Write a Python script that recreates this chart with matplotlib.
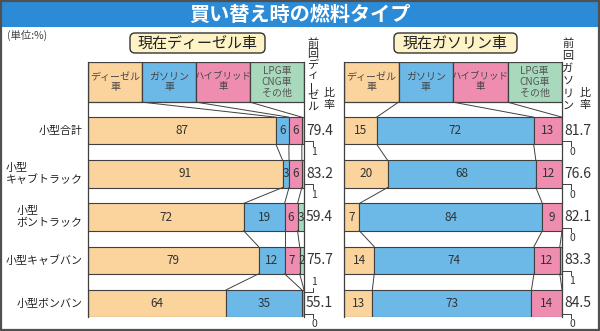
import matplotlib
matplotlib.use("Agg")
import matplotlib.pyplot as plt
from matplotlib.patches import Rectangle, FancyBboxPatch

plt.rcParams['font.family'] = ['Noto Sans CJK JP', 'DejaVu Sans']

# ---------------- data ----------------
title = "買い替え時の燃料タイプ"
unit_label = "(単位:%)"
categories = ["小型合計", "小型\nキャブトラック", "小型\nボントラック", "小型キャブバン", "小型ボンバン"]
fuel_labels = ["ディーゼル\n車", "ガソリン\n車", "ハイブリッド\n車", "LPG車\nCNG車\nその他"]

diesel_title = "現在ディーゼル車"
diesel_diesel = [87, 91, 72, 79, 64]
diesel_gasoline = [6, 3, 19, 12, 35]
diesel_hybrid = [6, 6, 6, 7, 1]
diesel_other = [1, 1, 3, 2, 0]
diesel_prev_ratio = [79.4, 83.2, 59.4, 75.7, 55.1]
diesel_prev_head = "前回ディーゼル"

gas_title = "現在ガソリン車"
gas_diesel = [15, 20, 7, 14, 13]
gas_gasoline = [72, 68, 84, 74, 73]
gas_hybrid = [13, 12, 9, 12, 14]
gas_other = [0, 0, 0, 1, 0]
gas_prev_ratio = [81.7, 76.6, 82.1, 83.3, 84.5]
gas_prev_head = "前回ガソリン"

colors = ["#fbd39c", "#6cb9e7", "#ef8db0", "#a9d9bd"]
edge = "#404040"
txt = "#333333"

W, H = 600, 331
fig = plt.figure(figsize=(W / 100, H / 100), dpi=100)
fig.patch.set_facecolor("white")

# overlay axes in pixel coordinates for decoration
ov = fig.add_axes([0, 0, 1, 1])
ov.set_xlim(0, W)
ov.set_ylim(H, 0)
ov.axis("off")
ov.add_patch(Rectangle((0, 0), W, 27, facecolor="#2b8bd6", edgecolor="none"))
ov.add_patch(Rectangle((1, 0.5), W - 2.5, H - 2, facecolor="none", edgecolor="#505050", lw=1.6))
ov.text(300, 14, title, color="white", fontsize=14.5, fontweight="bold", ha="center", va="center")
ov.text(7, 35, unit_label, color="#444444", fontsize=7.5, ha="left", va="center")

for (x0, x1, t) in [(130, 265, diesel_title), (394, 517, gas_title)]:
    ov.add_patch(FancyBboxPatch((x0, 33), x1 - x0, 20, boxstyle="round,pad=0,rounding_size=5",
                                facecolor="#fdf3c6", edgecolor="#333333", lw=1.0))
    ov.text((x0 + x1) / 2, 43.5, t, fontsize=10.8, ha="center", va="center", color="#222222")


def vertical_text(x, head, x2):
    n = len(head)
    step = (112 - 38) / n
    for i, c in enumerate(head):
        rot = 90 if c == "ー" else 0
        ov.text(x, 38 + step * (i + 0.5), c, fontsize=8, ha="center", va="center",
                rotation=rot, color="#222222")
    for i, c in enumerate("比率"):
        ov.text(x2, 93 + 12 * i, c, fontsize=8, ha="center", va="center", color="#222222")


vertical_text(313, diesel_prev_head, 329)
vertical_text(568, gas_prev_head, 585)

BAR_H = 0.63
Y_TOP = -1.593
Y_BOT = 4.315
LEG_H = 0.93


def panel(x_left, x_right, series, prev_ratio):
    ax = fig.add_axes([x_left / W, (H - 317) / H, (x_right - x_left) / W, 255 / H])
    ax.set_xlim(0, 100)
    ax.set_ylim(Y_BOT, Y_TOP)
    ax.axis("off")
    n = len(prev_ratio)
    # legend boxes
    for k, lab in enumerate(fuel_labels):
        ax.add_patch(Rectangle((25 * k, Y_TOP), 25, LEG_H, facecolor=colors[k], edgecolor=edge, lw=0.9))
        ax.text(25 * k + 12.5, Y_TOP + LEG_H / 2, lab, fontsize=6.8 if k == 2 else 7.2,
                ha="center", va="center",
                color="#444444" if k < 3 else "#555555", linespacing=1.1)
    # frame lines
    ax.plot([0, 0], [Y_TOP, Y_BOT], color=edge, lw=0.9, clip_on=False)
    ax.plot([100, 100], [Y_TOP, Y_BOT], color=edge, lw=0.9, clip_on=False)
    prev_bounds = [25, 50, 75]
    prev_y = Y_TOP + LEG_H
    for i in range(n):
        vals = [s[i] for s in series]
        tot = sum(vals)
        left = 0
        bounds = []
        for k, v in enumerate(vals):
            w = v / tot * 100
            if w > 0:
                ax.barh(i, w, left=left, height=BAR_H, color=colors[k], edgecolor=edge, lw=0.8)
            if v >= 2:
                ax.text(left + w / 2, i, str(v), fontsize=8.5, ha="center", va="center", color=txt)
            left += w
            bounds.append(left)
        bounds = bounds[:3]
        top = i - BAR_H / 2
        bot = i + BAR_H / 2
        for b0, b1 in zip(prev_bounds, bounds):
            ax.plot([b0, b1], [prev_y, top], color=edge, lw=0.7)
        prev_bounds = bounds
        prev_y = bot
        ax.text(100.9, i, f"{prev_ratio[i]:.1f}", fontsize=10, ha="left", va="center", color=txt,
                clip_on=False)
        # small values shown outside
        xl = 104.0
        if vals[3] < 2:
            ax.plot([100, xl, xl], [bot - 0.07, bot - 0.07, bot + 0.03], color=edge, lw=0.7, clip_on=False)
            ax.text(xl + 0.6, bot + 0.17, str(vals[3]), fontsize=7.5, ha="center", va="center",
                    color=txt, clip_on=False)
        if vals[2] < 2:
            ax.plot([100, xl, xl], [top + 0.05, top + 0.05, top - 0.05], color=edge, lw=0.7, clip_on=False)
            ax.text(xl + 0.6, top - 0.18, str(vals[2]), fontsize=7.5, ha="center", va="center",
                    color=txt, clip_on=False)
    return ax


axL = panel(88, 304, [diesel_diesel, diesel_gasoline, diesel_hybrid, diesel_other], diesel_prev_ratio)
axR = panel(344, 562, [gas_diesel, gas_gasoline, gas_hybrid, gas_other], gas_prev_ratio)

# category labels in left panel's coordinates
for i, c in enumerate(categories):
    axL.text(-2.5, i, c, fontsize=7.9, ha="right", va="center", color="#222222",
             multialignment="left", linespacing=1.15, clip_on=False)

fig.savefig("out.png", dpi=100)
